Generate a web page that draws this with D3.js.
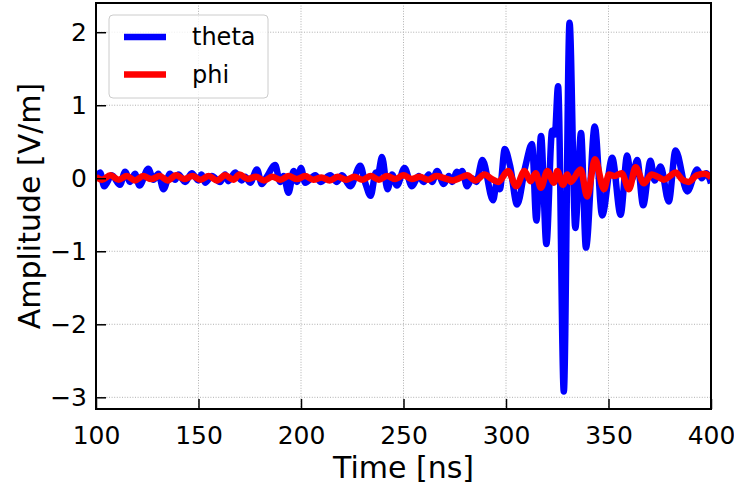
<!DOCTYPE html>
<html>
<head>
<meta charset="utf-8">
<script src="https://cdn.jsdelivr.net/npm/d3@7"></script>
<style>
  body { margin: 0; background: #fff; }
  svg { font-family: "DejaVu Sans", sans-serif; }
</style>
</head>
<body>
<svg id="chart"></svg>
<script>
// extrema: [time ns, amplitude V/m]
const thetaPts = [
  [100,0.0],[102,0.08],[104,-0.11],[107.7,0.04],[111.7,-0.09],[114.2,0.09],[116.6,-0.05],[119,0.06],
  [121.2,-0.1],[125.5,0.13],[128,-0.02],[130.4,0.06],[132.9,-0.15],[136.1,0.06],[138.6,-0.02],[140.2,0.05],
  [143.5,-0.05],[146.7,0.07],[150,-0.03],[151.5,0.05],[153.2,-0.06],[156.5,0.03],[160.5,-0.05],[163,0.05],
  [164.5,-0.04],[167.9,0.08],[171.1,-0.03],[172.8,0.02],[175.2,-0.06],[178.5,0.12],[180.9,-0.08],[183.3,0.02],
  [187.4,0.18],[189.8,-0.05],[191.5,0.03],[193.9,-0.2],[196.4,0.1],[198,-0.05],[200,0.14],[202,-0.06],
  [207,0.04],[209.4,-0.05],[214.3,0.04],[217.5,-0.05],[220,0.04],[224,-0.11],[228.9,0.17],[231.3,-0.06],
  [234,-0.24],[236.5,0.08],[237.5,0.05],[239.5,0.29],[242.2,-0.15],[244.4,0.05],[246.8,-0.1],[250.5,0.14],
  [254.1,-0.11],[257.4,0.03],[259.8,-0.05],[262.3,0.05],[263.9,-0.05],[266.4,0.1],[269.6,-0.08],[272.1,0.03],
  [273.7,-0.05],[276.1,0.09],[277.5,0.05],[278.6,0.1],[281,-0.11],[283.4,0.0],[285.5,-0.05],[288.5,0.25],
  [293.7,-0.3],[295.6,-0.05],[297,-0.15],[299.4,0.4],[302,0.17],[305.4,-0.36],[309.5,0.17],[312.7,0.47],
  [314.8,-0.58],[317.1,0.58],[319.7,-0.9],[322.5,0.65],[323.8,0.6],[325.4,1.26],[328.2,-2.92],[331,2.13],
  [333.8,-0.68],[336.6,0.62],[339,-0.95],[343.3,0.71],[346.9,-0.51],[351.8,0.28],[355.9,-0.5],[359.1,0.31],
  [361.2,-0.03],[364,0.25],[366.9,-0.37],[370.5,0.24],[372.5,-0.03],[375.4,0.16],[379.4,-0.32],[382.7,0.38],
  [388.4,-0.18],[393.3,0.12],[395.5,0.0],[397.7,0.07],[400,-0.07]
];
const phiPts = [
  [100,0.02],[103,-0.02],[107,0.04],[111,-0.02],[115,0.03],[119,-0.03],[123,0.03],[127,-0.01],
  [131,0.03],[135,-0.03],[139,0.04],[143,-0.01],[147,0.03],[151,-0.02],[155,0.03],[159,-0.03],
  [163,0.04],[167,-0.02],[170,0.05],[174,-0.01],[178,0.02],[182,-0.03],[186,0.02],[190,-0.02],
  [194,0.03],[198,-0.01],[202,0.03],[206,-0.02],[210,0.01],[214,-0.03],[218,0.02],[222,-0.02],
  [226,0.02],[230,-0.02],[234,0.03],[238,-0.02],[242,0.03],[246,-0.01],[250,0.04],[254,-0.01],
  [258,0.02],[262,-0.02],[266,0.03],[270,0.0],[274,-0.03],[278,0.01],[281,0.04],[285,-0.03],
  [289.5,0.05],[293,-0.01],[296.3,-0.05],[301,0.1],[305,-0.11],[309,0.1],[312,-0.04],[314.5,0.07],
  [317,-0.13],[320.2,0.1],[323.4,-0.06],[325,0.1],[327.8,-0.09],[329.9,0.05],[331.5,-0.05],[336.4,0.12],
  [339.6,-0.25],[343.4,0.26],[347.8,-0.15],[350.2,0.05],[353,0.03],[356.4,0.07],[360,-0.15],[363.2,0.15],
  [367.3,-0.07],[371,0.05],[374,0.02],[377,-0.02],[380,0.03],[382.7,0.08],[386,-0.02],[389,-0.05],
  [393,0.04],[397,0.06],[400,0.01]
];
const xTicks = [100, 150, 200, 250, 300, 350, 400];
const yTicks = [-3, -2, -1, 0, 1, 2];
const seriesNames = ["theta", "phi"];
const seriesColors = ["#0000ff", "#ff0000"];

const width = 734, height = 486;
const mLeft = 96, mRight = 711, mTop = 3, mBottom = 409;

const svg = d3.select("#chart").attr("width", width).attr("height", height);

const x = d3.scaleLinear().domain([100, 400]).range([mLeft, mRight]);
const y = d3.scaleLinear().domain([-3.16, 2.40]).range([mBottom, mTop]);

svg.append("clipPath").attr("id", "plotclip")
  .append("rect").attr("x", mLeft).attr("y", mTop)
  .attr("width", mRight - mLeft).attr("height", mBottom - mTop);

// grid
const grid = svg.append("g");
grid.selectAll("line.gx").data(xTicks).enter().append("line")
  .attr("x1", d => x(d)).attr("x2", d => x(d))
  .attr("y1", mTop).attr("y2", mBottom)
  .attr("stroke", "#b0b0b0").attr("stroke-width", 1).attr("stroke-dasharray", "1,1.6");
grid.selectAll("line.gy").data(yTicks).enter().append("line")
  .attr("y1", d => y(d)).attr("y2", d => y(d))
  .attr("x1", mLeft).attr("x2", mRight)
  .attr("stroke", "#b0b0b0").attr("stroke-width", 1).attr("stroke-dasharray", "1,1.6");

// lines
const line = d3.line()
  .x(d => x(d[0]))
  .y(d => y(d[1]))
  .curve(d3.curveMonotoneX);

const lines = svg.append("g").attr("clip-path", "url(#plotclip)");
[thetaPts, phiPts].forEach((pts, i) => {
  lines.append("path")
    .datum(pts)
    .attr("d", line)
    .attr("fill", "none")
    .attr("stroke", seriesColors[i])
    .attr("stroke-width", 6.5)
    .attr("stroke-linejoin", "round")
    .attr("stroke-linecap", "butt");
});

// axes, ticks pointing inward
const fmt = d3.format("d");
const xAxis = d3.axisBottom(x).tickValues(xTicks).tickFormat(fmt).tickSizeInner(-10).tickSizeOuter(0).tickPadding(17);
const yAxis = d3.axisLeft(y).tickValues(yTicks).tickFormat(fmt).tickSizeInner(-10).tickSizeOuter(0).tickPadding(9);

const gx = svg.append("g").attr("transform", `translate(0,${mBottom})`).call(xAxis);
const gy = svg.append("g").attr("transform", `translate(${mLeft},0)`).call(yAxis);
[gx, gy].forEach(g => {
  g.select(".domain").remove();
  g.selectAll(".tick line").attr("stroke", "#000").attr("stroke-width", 1.5);
  g.selectAll(".tick text").attr("fill", "#000")
    .style("font-family", "DejaVu Sans").style("font-size", "25px");
});

// frame
svg.append("rect")
  .attr("x", mLeft).attr("y", mTop)
  .attr("width", mRight - mLeft).attr("height", mBottom - mTop)
  .attr("fill", "none").attr("stroke", "#000").attr("stroke-width", 2);

// axis labels
svg.append("text")
  .attr("x", (mLeft + mRight) / 2).attr("y", 478)
  .attr("text-anchor", "middle")
  .style("font-size", "30px")
  .text("Time [ns]");
svg.append("text")
  .attr("transform", `translate(40,${(mTop + mBottom) / 2}) rotate(-90)`)
  .attr("text-anchor", "middle")
  .style("font-size", "30px")
  .text("Amplitude [V/m]");

// legend
const legend = svg.append("g");
legend.append("rect")
  .attr("x", 109).attr("y", 15).attr("width", 159).attr("height", 83)
  .attr("rx", 4).attr("fill", "#fff").attr("fill-opacity", 0.8)
  .attr("stroke", "#cccccc").attr("stroke-width", 1);
seriesNames.forEach((name, i) => {
  const ly = 37 + i * 37.5;
  legend.append("line")
    .attr("x1", 124).attr("x2", 166).attr("y1", ly).attr("y2", ly)
    .attr("stroke", seriesColors[i]).attr("stroke-width", 6.5);
  legend.append("text")
    .attr("x", 192).attr("y", ly + 8)
    .style("font-size", "24px")
    .text(name);
});
</script>
</body>
</html>
